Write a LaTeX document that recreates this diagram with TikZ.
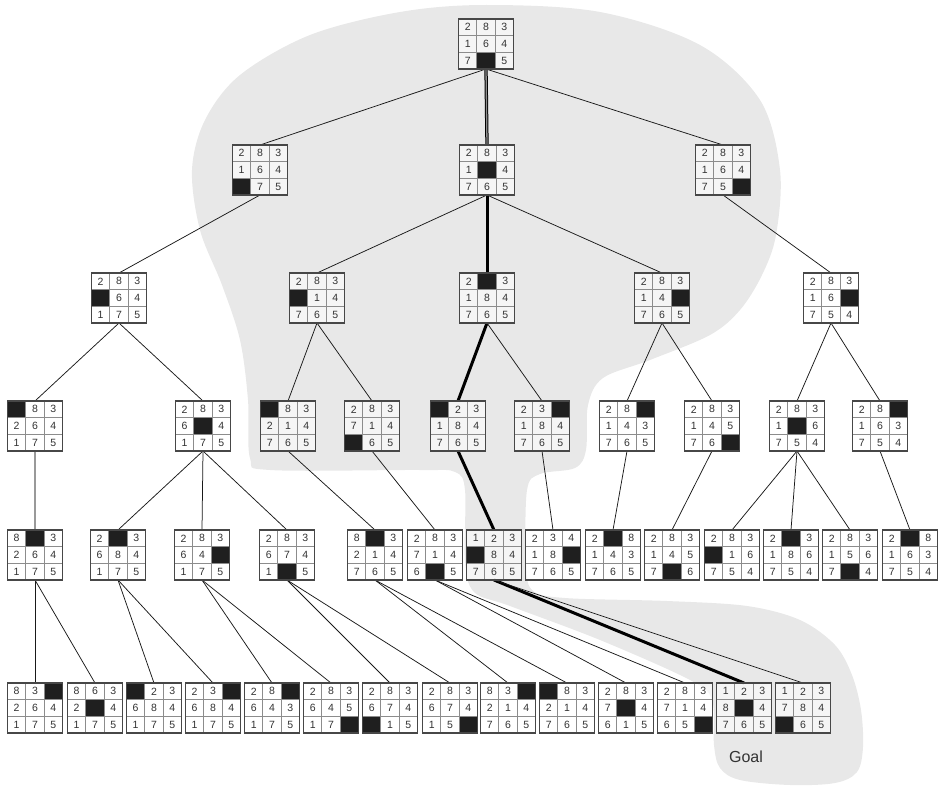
\documentclass[tikz,border=0pt]{standalone}
\usepackage{fontspec}
\setmainfont{Liberation Sans}
\usetikzlibrary{calc,backgrounds}
\tikzset{
  board/.style={rectangle, minimum width=55pt, minimum height=50pt, inner sep=0pt, outer sep=0pt},
  cellbox/.style={fill=white, fill opacity=0.6, draw=black!45, line width=1.3pt, draw opacity=1},
  hole/.style={fill=black!88, draw=black!45, line width=1.3pt},
  frame/.style={draw=black!72, line width=1.1pt},
  num/.style={font=\fontsize{10.5}{10.5}\selectfont, text=black!80, inner sep=0pt},
  edge/.style={line width=0.75pt, black!90},
  goaledge/.style={line width=3pt, black},
  rootedge/.style={line width=1pt, black, double=black!45, double distance=1.3pt},
  grayedge/.style={line width=2.4pt, black!40},
  blob/.style={fill=black!9},
  goaltext/.style={font=\fontsize{16}{16}\selectfont, text=black!80}
}
\newcommand\pz[4]{%
  \node[board] (#1) at (#2,#3) {};
  \foreach \v [count=\k from 0] in {#4} {%
    \pgfmathtruncatemacro\pzr{int(\k/3)}%
    \pgfmathtruncatemacro\pzc{\k-3*\pzr}%
    \ifnum\v=0
      \path[hole] ($(#1.north west)+(\pzc*18.333,\pzr*16.667)$) rectangle ++(18.333,16.667);
    \else
      \path[cellbox] ($(#1.north west)+(\pzc*18.333,\pzr*16.667)$) rectangle ++(18.333,16.667);
      \node[num] (#1n\k) at ($(#1.north west)+(\pzc*18.333+9.167,\pzr*16.667+8.333)$) {\v};
    \fi
  }%
  \path[frame] (#1.north west) rectangle (#1.south east);
}
\begin{document}
\begin{tikzpicture}[x=1pt,y=-1pt]
\useasboundingbox (0,0) rectangle (948,792);
% level 0
\pz{r}{486}{44}{2,8,3,1,6,4,7,0,5}
% level 1
\pz{a1}{260}{170}{2,8,3,1,6,4,0,7,5}
\pz{a2}{487}{170}{2,8,3,1,0,4,7,6,5}
\pz{a3}{723}{170}{2,8,3,1,6,4,7,5,0}
% level 2
\pz{b1}{119}{298}{2,8,3,0,6,4,1,7,5}
\pz{b2}{317}{298}{2,8,3,0,1,4,7,6,5}
\pz{b3}{487}{298}{2,0,3,1,8,4,7,6,5}
\pz{b4}{662}{298}{2,8,3,1,4,0,7,6,5}
\pz{b5}{831}{298}{2,8,3,1,6,0,7,5,4}
% level 3
\pz{c1}{35}{426}{0,8,3,2,6,4,1,7,5}
\pz{c2}{203}{426}{2,8,3,6,0,4,1,7,5}
\pz{c3}{288}{426}{0,8,3,2,1,4,7,6,5}
\pz{c4}{372}{426}{2,8,3,7,1,4,0,6,5}
\pz{c5}{458}{426}{0,2,3,1,8,4,7,6,5}
\pz{c6}{542}{426}{2,3,0,1,8,4,7,6,5}
\pz{c7}{627}{426}{2,8,0,1,4,3,7,6,5}
\pz{c8}{712}{426}{2,8,3,1,4,5,7,6,0}
\pz{c9}{797}{426}{2,8,3,1,0,6,7,5,4}
\pz{c10}{880}{426}{2,8,0,1,6,3,7,5,4}
% level 4
\pz{d1}{35}{555}{8,0,3,2,6,4,1,7,5}
\pz{d2}{118}{555}{2,0,3,6,8,4,1,7,5}
\pz{d3}{202}{555}{2,8,3,6,4,0,1,7,5}
\pz{d4}{287}{555}{2,8,3,6,7,4,1,0,5}
\pz{d5}{375}{555}{8,0,3,2,1,4,7,6,5}
\pz{d6}{435}{555}{2,8,3,7,1,4,6,0,5}
\pz{d7}{494}{555}{1,2,3,0,8,4,7,6,5}
\pz{d8}{553}{555}{2,3,4,1,8,0,7,6,5}
\pz{d9}{613}{555}{2,0,8,1,4,3,7,6,5}
\pz{d10}{672}{555}{2,8,3,1,4,5,7,0,6}
\pz{d11}{732}{555}{2,8,3,0,1,6,7,5,4}
\pz{d12}{791}{555}{2,0,3,1,8,6,7,5,4}
\pz{d13}{850}{555}{2,8,3,1,5,6,7,0,4}
\pz{d14}{910}{555}{2,0,8,1,6,3,7,5,4}
% level 5
\pz{e1}{35}{708}{8,3,0,2,6,4,1,7,5}
\pz{e2}{95}{708}{8,6,3,2,0,4,1,7,5}
\pz{e3}{154}{708}{0,2,3,6,8,4,1,7,5}
\pz{e4}{213}{708}{2,3,0,6,8,4,1,7,5}
\pz{e5}{272}{708}{2,8,0,6,4,3,1,7,5}
\pz{e6}{331}{708}{2,8,3,6,4,5,1,7,0}
\pz{e7}{390}{708}{2,8,3,6,7,4,0,1,5}
\pz{e8}{450}{708}{2,8,3,6,7,4,1,5,0}
\pz{e9}{508}{708}{8,3,0,2,1,4,7,6,5}
\pz{e10}{567}{708}{0,8,3,2,1,4,7,6,5}
\pz{e11}{626}{708}{2,8,3,7,0,4,6,1,5}
\pz{e12}{685}{708}{2,8,3,7,1,4,6,5,0}
\pz{e13}{744}{708}{1,2,3,8,0,4,7,6,5}
\pz{e14}{803}{708}{1,2,3,7,8,4,0,6,5}
\node[goaltext] (goal) at (746,757) {Goal};
\begin{pgfonlayer}{background}
\path[blob] plot[smooth cycle, tension=0.55] coordinates {
 (486,5) (600,12) (700,45) (760,100) (780,170) (776,235) (762,275) (740,310)
 (710,335) (650,360) (603,378) (588,405) (586,450) (575,468) (540,474) (527,490)
 (526,560) (532,590) (565,598) (667,601) (747,606) (800,620) (835,645) (852,675)
 (861,710) (863,747) (857,772) (835,783) (790,785) (740,780) (720,768) (714,745)
 (712,700) (690,680) (600,640) (510,606) (474,592) (465,560) (465,490) (455,472)
 (420,470) (270,470) (250,458) (248,400) (240,340) (222,285) (200,230) (192,170)
 (205,120) (240,75) (310,35) (400,12)};
\draw[rootedge] (r.south) -- (a2.north);
\draw[edge] (r.south) -- (a1.north);
\draw[edge] (r.south) -- (a3.north);
\draw[edge] (a1.south) -- (b1.north);
\draw[edge] (a2.south) -- (b2.north);
\draw[goaledge] (a2.south) -- (b3.north);
\draw[edge] (a2.south) -- (b4.north);
\draw[edge] (a3.south) -- (b5.north);
\draw[edge] (b1.south) -- (c1.north);
\draw[edge] (b1.south) -- (c2.north);
\draw[edge] (b2.south) -- (c3.north);
\draw[edge] (b2.south) -- (c4.north);
\draw[goaledge] (b3.south) -- (c5.north);
\draw[edge] (b3.south) -- (c6.north);
\draw[edge] (b4.south) -- (c7.north);
\draw[edge] (b4.south) -- (c8.north);
\draw[edge] (b5.south) -- (c9.north);
\draw[edge] (b5.south) -- (c10.north);
\draw[grayedge] (c1.south) -- (d1.north);
\draw[edge] (c2.south) -- (d2.north);
\draw[edge] (c2.south) -- (d3.north);
\draw[edge] (c2.south) -- (d4.north);
\draw[edge] (c3.south) -- (d5.north);
\draw[edge] (c4.south) -- (d6.north);
\draw[goaledge] (c5.south) -- (d7.north);
\draw[edge] (c6.south) -- (d8.north);
\draw[edge] (c7.south) -- (d9.north);
\draw[edge] (c8.south) -- (d10.north);
\draw[edge] (c9.south) -- (d11.north);
\draw[edge] (c9.south) -- (d12.north);
\draw[edge] (c9.south) -- (d13.north);
\draw[edge] (c10.south) -- (d14.north);
\draw[edge] (d1.south) -- (e1.north);
\draw[edge] (d1.south) -- (e2.north);
\draw[edge] (d2.south) -- (e3.north);
\draw[edge] (d2.south) -- (e4.north);
\draw[edge] (d3.south) -- (e5.north);
\draw[edge] (d3.south) -- (e6.north);
\draw[edge] (d4.south) -- (e7.north);
\draw[edge] (d4.south) -- (e8.north);
\draw[edge] (d5.south) -- (e9.north);
\draw[edge] (d5.south) -- (e10.north);
\draw[edge] (d6.south) -- (e11.north);
\draw[edge] (d6.south) -- (e12.north);
\draw[goaledge] (d7.south) -- (e13.north);
\draw[edge] (d7.south) -- (e14.north);
\end{pgfonlayer}
\end{tikzpicture}
\end{document}
